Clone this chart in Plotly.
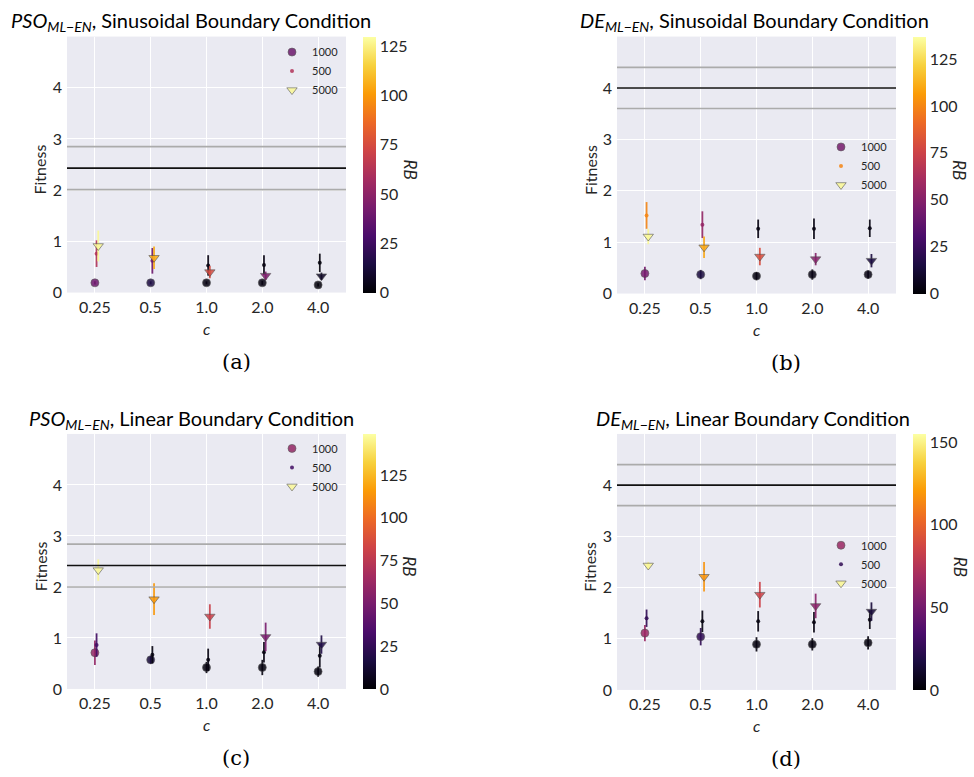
import plotly.graph_objects as go
from plotly.colors import sample_colorscale

# ---------------- data ----------------
c_labels = ["0.25", "0.5", "1.0", "2.0", "4.0"]
series_names = ["1000", "500", "5000"]

# (a) PSO, sinusoidal
a_1000_mean = [0.19, 0.19, 0.19, 0.19, 0.15]
a_1000_err = [0.03, 0.03, 0.03, 0.04, 0.03]
a_1000_rb = [40, 15, 3, 3, 2]
a_500_mean = [0.76, 0.62, 0.53, 0.54, 0.58]
a_500_err = [0.26, 0.25, 0.20, 0.19, 0.18]
a_500_rb = [62, 40, 3, 3, 2]
a_5000_mean = [0.91, 0.68, 0.40, 0.33, 0.32]
a_5000_err = [0.30, 0.22, 0.12, 0.08, 0.07]
a_5000_rb = [128, 105, 75, 45, 8]
a_ref, a_band, a_cmax = 2.43, 0.42, 130

# (b) DE, sinusoidal
b_1000_mean = [0.39, 0.37, 0.34, 0.37, 0.37]
b_1000_err = [0.13, 0.09, 0.08, 0.10, 0.08]
b_1000_rb = [45, 15, 3, 4, 4]
b_500_mean = [1.52, 1.34, 1.26, 1.26, 1.27]
b_500_err = [0.26, 0.26, 0.18, 0.20, 0.17]
b_500_rb = [100, 55, 3, 3, 3]
b_5000_mean = [1.11, 0.90, 0.72, 0.67, 0.64]
b_5000_err = [0.15, 0.21, 0.17, 0.12, 0.13]
b_5000_rb = [135, 110, 80, 50, 15]
b_ref, b_band, b_cmax = 4.0, 0.4, 137

# (c) PSO, linear
c_1000_mean = [0.71, 0.57, 0.42, 0.42, 0.34]
c_1000_err = [0.24, 0.08, 0.11, 0.15, 0.10]
c_1000_rb = [60, 15, 3, 3, 3]
c_500_mean = [0.86, 0.67, 0.57, 0.72, 0.65]
c_500_err = [0.23, 0.17, 0.22, 0.20, 0.23]
c_500_rb = [30, 3, 3, 3, 3]
c_5000_mean = [2.33, 1.76, 1.42, 1.02, 0.87]
c_5000_err = [0.21, 0.31, 0.24, 0.28, 0.18]
c_5000_rb = [147, 115, 80, 50, 18]
c_ref, c_band, c_cmax = 2.42, 0.42, 149

# (d) DE, linear
d_1000_mean = [1.11, 1.04, 0.89, 0.89, 0.92]
d_1000_err = [0.16, 0.17, 0.14, 0.12, 0.13]
d_1000_rb = [65, 25, 3, 3, 3]
d_500_mean = [1.40, 1.34, 1.34, 1.32, 1.37]
d_500_err = [0.17, 0.21, 0.20, 0.20, 0.18]
d_500_rb = [25, 3, 3, 3, 3]
d_5000_mean = [2.43, 2.21, 1.86, 1.64, 1.53]
d_5000_err = [0.07, 0.29, 0.25, 0.24, 0.18]
d_5000_rb = [152, 118, 85, 58, 15]
d_ref, d_band, d_cmax = 4.0, 0.4, 155

titles = [
    "<i>PSO</i><sub><i>ML\u2212EN</i></sub>, Sinusoidal Boundary Condition",
    "<i>DE</i><sub><i>ML\u2212EN</i></sub>, Sinusoidal Boundary Condition",
    "<i>PSO</i><sub><i>ML\u2212EN</i></sub>, Linear Boundary Condition",
    "<i>DE</i><sub><i>ML\u2212EN</i></sub>, Linear Boundary Condition",
]
captions = ["(a)", "(b)", "(c)", "(d)"]
cbar_dticks = [25, 25, 25, 50]

# ---------------- layout helpers ----------------
W, H = 974, 777
def fx(x):
    return x / W
def fy(y):
    return 1 - y / H

TXT = "#262626"
FONT = "Lato"

panels = [
    dict(data=[(a_1000_mean, a_1000_err, a_1000_rb), (a_500_mean, a_500_err, a_500_rb), (a_5000_mean, a_5000_err, a_5000_rb)],
         ref=a_ref, band=a_band, cmax=a_cmax,
         x0=67, x1=346, yt=37, yb=296, title_x=191, leg=(272, 38)),
    dict(data=[(b_1000_mean, b_1000_err, b_1000_rb), (b_500_mean, b_500_err, b_500_rb), (b_5000_mean, b_5000_err, b_5000_rb)],
         ref=b_ref, band=b_band, cmax=b_cmax,
         x0=617, x1=896, yt=37, yb=297, title_x=754, leg=(821, 134)),
    dict(data=[(c_1000_mean, c_1000_err, c_1000_rb), (c_500_mean, c_500_err, c_500_rb), (c_5000_mean, c_5000_err, c_5000_rb)],
         ref=c_ref, band=c_band, cmax=c_cmax,
         x0=67, x1=346, yt=439, yb=697, title_x=191, leg=(272, 439)),
    dict(data=[(d_1000_mean, d_1000_err, d_1000_rb), (d_500_mean, d_500_err, d_500_rb), (d_5000_mean, d_5000_err, d_5000_rb)],
         ref=d_ref, band=d_band, cmax=d_cmax,
         x0=617, x1=896, yt=439, yb=698, title_x=753, leg=(821, 537)),
]

offsets = [0.0, 0.03, 0.06]
msyms = ["circle", "circle", "triangle-down"]
sizes = [8, 4, 9]

fig = go.Figure()
layout = dict(
    width=W, height=H, margin=dict(l=0, r=0, t=0, b=0),
    paper_bgcolor="white", plot_bgcolor="#EAEAF2",
    showlegend=True, font=dict(family=FONT, color=TXT),
)
annotations = []
shapes = []

for k, p in enumerate(panels):
    n = "" if k == 0 else str(k + 1)
    xa, ya = "x" + n, "y" + n
    ca = "coloraxis" + n
    lg = "legend" + n
    xs = [i for i in range(len(c_labels))]
    for s, (mean, err, rb) in enumerate(p["data"]):
        cols = sample_colorscale("Inferno", [v / p["cmax"] for v in rb])
        xpos = [x + offsets[s] for x in xs]
        # per-point coloured error bars
        for xi, m, e, col in zip(xpos, mean, err, cols):
            fig.add_trace(go.Scatter(
                x=[xi, xi], y=[m - e, m + e], mode="lines",
                line=dict(color=col, width=1.8), opacity=0.9,
                showlegend=False, hoverinfo="skip", xaxis=xa, yaxis=ya))
        mline = dict(color="rgba(70,70,70,0.8)", width=0.8 if s != 1 else 0)
        fig.add_trace(go.Scatter(
            x=xpos, y=mean, mode="markers", name=series_names[s], showlegend=False,
            marker=dict(symbol=msyms[s], size=sizes[s], color=rb, coloraxis=ca,
                        opacity=0.85, line=mline),
            xaxis=xa, yaxis=ya))
        # legend entry coloured like the first point of the series
        fig.add_trace(go.Scatter(
            x=[None], y=[None], mode="markers", name=series_names[s],
            marker=dict(symbol=msyms[s], size=sizes[s], color=cols[0],
                        opacity=0.85, line=mline),
            xaxis=xa, yaxis=ya, legend=lg, hoverinfo="skip"))

    dom_x = [fx(p["x0"]), fx(p["x1"])]
    dom_y = [fy(p["yb"]), fy(p["yt"])]
    layout["xaxis" + n] = dict(
        domain=dom_x, anchor=ya, range=[-0.5, 4.5],
        tickvals=xs, ticktext=c_labels, showgrid=True, gridcolor="white", gridwidth=1,
        zeroline=False, showline=False, ticks="", ticklabelstandoff=3,
        tickfont=dict(size=16, color=TXT, family=FONT))
    layout["yaxis" + n] = dict(
        domain=dom_y, anchor=xa, range=[0, 5], tickvals=[0, 1, 2, 3, 4],
        showgrid=True, gridcolor="white", gridwidth=1, zeroline=False,
        showline=False, ticks="", ticklabelstandoff=4,
        tickfont=dict(size=16, color=TXT, family=FONT))
    cb_x = p["x1"] + 17
    layout[ca] = dict(
        colorscale="Inferno", cmin=0, cmax=p["cmax"],
        colorbar=dict(x=fx(cb_x), xanchor="left", y=dom_y[0], yanchor="bottom",
                      len=dom_y[1] - dom_y[0], lenmode="fraction", thickness=13,
                      thicknessmode="pixels", outlinewidth=0, xpad=0, ypad=0,
                      ticks="", tick0=0, dtick=cbar_dticks[k],
                      tickfont=dict(size=16, color=TXT, family=FONT)))
    layout[lg] = dict(
        x=fx(p["leg"][0]), y=fy(p["leg"][1]), xanchor="left", yanchor="top",
        bgcolor="rgba(0,0,0,0)", font=dict(size=11, color=TXT, family=FONT),
        tracegroupgap=0, itemwidth=30)

    # reference lines
    for val, colr in [(p["ref"] + p["band"], "#ababab"), (p["ref"] - p["band"], "#ababab"), (p["ref"], "#111111")]:
        shapes.append(dict(type="line", xref=xa + " domain", yref=ya, x0=0, x1=1,
                           y0=val, y1=val, line=dict(color=colr, width=1.6), layer="above"))

    cx = (p["x0"] + p["x1"]) / 2
    annotations += [
        dict(text=titles[k], x=fx(p["title_x"]), y=fy(p["yt"] - 15), xref="paper", yref="paper",
             showarrow=False, xanchor="center", yanchor="middle",
             font=dict(size=20, color="black", family=FONT)),
        dict(text="Fitness", x=fx(p["x0"] - 27), y=fy((p["yt"] + p["yb"]) / 2 + 5), xref="paper", yref="paper",
             showarrow=False, textangle=-90, xanchor="center", yanchor="middle",
             font=dict(size=16, color=TXT, family=FONT)),
        dict(text="<i>c</i>", x=fx(cx), y=fy(p["yb"] + 36), xref="paper", yref="paper",
             showarrow=False, xanchor="center", yanchor="middle",
             font=dict(size=16, color=TXT, family=FONT)),
        dict(text="<i>RB</i>", x=fx(p["x1"] + 64), y=fy((p["yt"] + p["yb"]) / 2 + 5), xref="paper", yref="paper",
             showarrow=False, textangle=90, xanchor="center", yanchor="middle",
             font=dict(size=17, color=TXT, family=FONT)),
        dict(text=captions[k], x=fx(p["x0"] + 169), y=fy(p["yb"] + 70), xref="paper", yref="paper",
             showarrow=False, xanchor="center", yanchor="middle",
             font=dict(size=21, color="black", family="DejaVu Serif")),
    ]

layout["annotations"] = annotations
layout["shapes"] = shapes
fig.update_layout(**layout)
fig.write_html("out.html")
